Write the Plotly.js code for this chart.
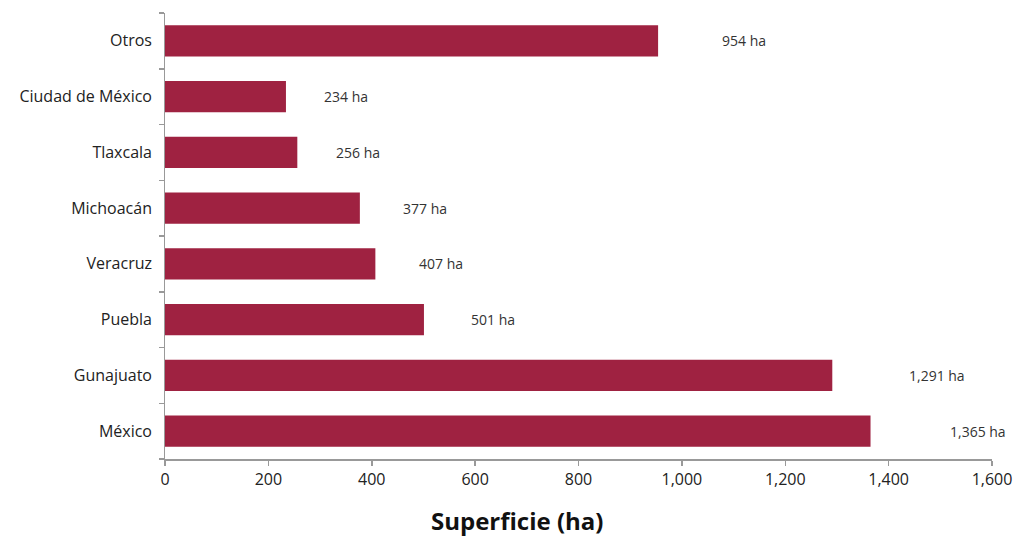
<!DOCTYPE html>
<html>
<head>
<meta charset="utf-8">
<script src="https://cdn.plot.ly/plotly-3.0.1.min.js"></script>
<style>html,body{margin:0;padding:0;background:#fff;}#chart{width:1014px;height:537px;}</style>
</head>
<body>
<div id="chart"></div>
<script>
const categories = ["México", "Gunajuato", "Puebla", "Veracruz", "Michoacán", "Tlaxcala", "Ciudad de México", "Otros"];
const values = [1365, 1291, 501, 407, 377, 256, 234, 954];
const xTickVals = [0, 200, 400, 600, 800, 1000, 1200, 1400, 1600];
const xTickText = ["0", "200", "400", "600", "800", "1,000", "1,200", "1,400", "1,600"];
const xTitle = "Superficie (ha)";

const fontFam = "'Open Sans', 'Noto Sans', 'DejaVu Sans', sans-serif";
const fmt = v => v.toLocaleString('en-US') + " ha";

const trace = {
  type: 'bar',
  orientation: 'h',
  x: values,
  y: categories,
  marker: {color: '#9F2241'},
  hoverinfo: 'none'
};

const annotations = values.map((v, i) => ({
  x: v, y: categories[i], xref: 'x', yref: 'y',
  text: fmt(v), showarrow: false, xanchor: 'left',
  xshift: 27 + 0.037 * v,
  font: {family: fontFam, size: 14, color: '#333'}
}));
annotations.push({
  x: 0.4256, y: -0.139, xref: 'paper', yref: 'paper', yanchor: 'middle', xanchor: 'center',
  text: '<b>' + xTitle + '</b>', showarrow: false,
  font: {family: fontFam, size: 24, color: '#111'}
});

const layout = {
  width: 1014, height: 537,
  margin: {l: 165, r: 22, t: 13, b: 78},
  paper_bgcolor: '#fff', plot_bgcolor: '#fff',
  showlegend: false,
  bargap: 0.44,
  font: {family: fontFam, color: '#222'},
  xaxis: {
    range: [0, 1600], tickvals: xTickVals, ticktext: xTickText,
    showgrid: false, zeroline: false, showline: true, linecolor: '#999', linewidth: 1.5,
    ticks: 'outside', ticklen: 5, tickcolor: '#999', tickwidth: 1.5,
    tickfont: {family: fontFam, size: 16, color: '#222'},
    fixedrange: true
  },
  yaxis: {
    categoryorder: 'array', categoryarray: categories,
    showgrid: false, zeroline: false, showline: true, linecolor: '#999', linewidth: 1.5,
    ticks: 'outside', ticklen: 5, tickcolor: '#999', tickwidth: 1.5, tickson: 'boundaries',
    tickfont: {family: fontFam, size: 16, color: '#222'},
    ticksuffix: '  ',
    fixedrange: true
  },
  annotations: annotations
};

Plotly.newPlot('chart', [trace], layout, {displayModeBar: false, staticPlot: true});
</script>
</body>
</html>
